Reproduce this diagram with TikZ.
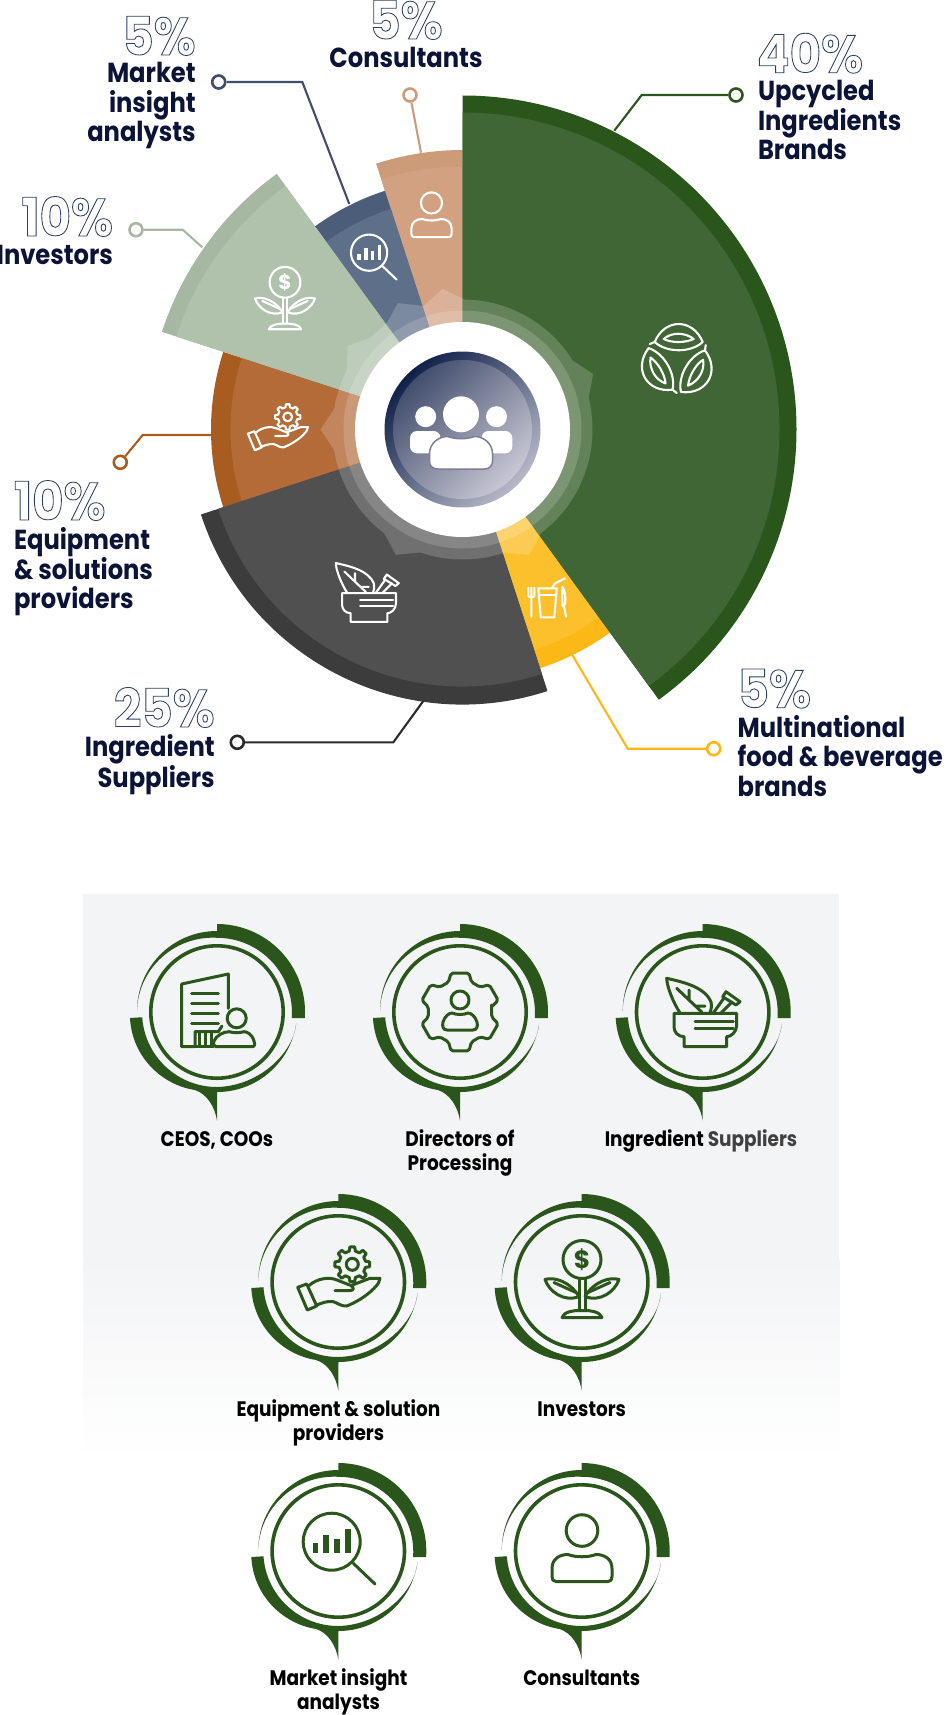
\documentclass[tikz,border=0pt]{standalone}
\usepackage{fontspec}
\setmainfont{Poppins}
\newfontfamily\lblfont[FakeStretch=.88]{Poppins}
\newfontfamily\pctfont[FakeStretch=.91]{Poppins}
\usetikzlibrary{positioning}

\definecolor{navy}{HTML}{0B1437}
\definecolor{leafgreen}{HTML}{2A561C}
\definecolor{panel}{HTML}{F3F4F6}
\definecolor{greenM}{HTML}{3F6634}
\definecolor{greenB}{HTML}{2A561C}
\definecolor{yellowM}{HTML}{FCC02C}
\definecolor{yellowB}{HTML}{FBB817}
\definecolor{greyM}{HTML}{505050}
\definecolor{greyB}{HTML}{3C3C3C}
\definecolor{brownM}{HTML}{B36B38}
\definecolor{brownB}{HTML}{A95C20}
\definecolor{sageM}{HTML}{B0C1AC}
\definecolor{sageB}{HTML}{A6B8A1}
\definecolor{slateM}{HTML}{5D6F89}
\definecolor{slateB}{HTML}{4C5D79}
\definecolor{peachM}{HTML}{D1A182}
\definecolor{peachB}{HTML}{CC9B78}
\definecolor{hubDark}{HTML}{0F2048}
\definecolor{hubPale}{HTML}{B7B8C8}
\definecolor{coreDark}{HTML}{434E6E}
\definecolor{corePale}{HTML}{C8C8D4}
\definecolor{bodyHalo}{HTML}{7C7E98}

% outlined figures
\newcommand{\hollow}[1]{\special{pdf:code q 1 Tr .85 w 0.18 0.25 0.39 RG}#1\special{pdf:code Q}}

\tikzset{
    pics/badge/.style={code={
        \fill[leafgreen] (0,88) arc[start angle=90, end angle=-4, radius=88] -- (74.8,-6)
            arc[start angle=-4, end angle=90, radius=75] .. controls (-43,76.5) and (-79,43) .. (-80,1)
            arc[start angle=180, end angle=90, radius=80] -- cycle;
        \fill[leafgreen] (-87,-6) .. controls (-85,-45) and (-55,-73) .. (-22,-78)
            .. controls (-10,-82) and (-2,-95) .. (0,-108.7) -- (0,-80)
            arc[start angle=270, end angle=352, radius=80] .. controls (77,-40) and (43,-74) .. (0,-75)
            arc[start angle=270, end angle=184, radius=75] -- cycle;
        \draw[leafgreen, line width=3.6pt] (0,0) circle[radius=66.2];
    }},
    pics/person/.style={code={
        \draw[iconline] (0,18) circle[radius=15.8];
        \draw[iconline] (-26,-33) -- (26,-33) .. controls (29,-33) and (30,-31) .. (30,-28) -- (30,-20)
            .. controls (30,-10) and (22,-6) .. (14,-6) .. controls (6,-9) and (-6,-9) .. (-14,-6)
            .. controls (-22,-6) and (-30,-10) .. (-30,-20) -- (-30,-28) .. controls (-30,-31) and (-29,-33) .. (-26,-33) -- cycle;
    }},
    pics/lens/.style={code={
        \draw[iconline] (-7.3,6.8) circle[radius=28.5];
        \draw[iconline] (14.3,-14.8) -- (36,-35.5);
        \fill[iconfill] (-26.3,-4.8) rectangle (-20.7,5.2);
        \fill[iconfill] (-15.7,-4.8) rectangle (-9.7,13.5);
        \fill[iconfill] (-5,-4.8) rectangle (1,9.2);
        \fill[iconfill] (6,-4.8) rectangle (12,19.2);
    }},
    pics/plant/.style={code={
        \draw[iconline] (0,20) circle[radius=19];
        \node[icontext, transform shape, font=\fontsize{25}{25}\selectfont\bfseries] (coin) at (0,19.5) {\$};
        \draw[iconline] (-3,1) -- (-3,-31) (3,1) -- (3,-31);
        \draw[iconline] (-3,-17) .. controls (-12,-2) and (-28,3) .. (-37,0) .. controls (-33,-12) and (-18,-23) .. (-3,-17);
        \draw[iconline] (3,-17) .. controls (12,-2) and (28,3) .. (37,0) .. controls (33,-12) and (18,-23) .. (3,-17);
        \draw[iconline] (-28,-3) -- (-6,-13) (28,-3) -- (6,-13);
        \draw[iconline] (-20,-38) -- (20,-38) .. controls (18,-32) and (8,-31) .. (3,-31) -- (-3,-31) .. controls (-8,-31) and (-18,-32) .. (-20,-38) -- cycle;
    }},
    pics/handgear/.style={code={
        \begin{scope}[shift={(13.3,15.2)}]
            \draw[iconline] (-13:13.5) \foreach \t in {0,45,...,315} {
                -- (\t-13:13.5) -- (\t-8:17.5) -- (\t+8:17.5) -- (\t+13:13.5)} -- cycle;
            \draw[iconline] (0,0) circle[radius=6];
        \end{scope}
        \draw[iconline] (-41.3,-7.8) -- (-31.7,-30.5) -- (-22.3,-26.5) -- (-32.3,-4.5) -- cycle;
        \draw[iconline] (-30,-6) .. controls (-22,1) and (-10,3) .. (-2,-.5) -- (12,-6) .. controls (16,-9) and (14,-11) .. (11,-11) -- (-4,-11);
        \draw[iconline] (12,-6) -- (31,1.2) -- (41,1.2) -- (39.3,-3.8) .. controls (35,-10) and (24,-20) .. (7.7,-26.5) .. controls (2,-27) and (-2,-23) .. (-5.7,-22.2) .. controls (-12,-21) and (-18,-24) .. (-22.3,-25.5);
    }},
    pics/mortar/.style={code={
        \draw[iconline] (-29,-1.3) -- (33.7,-1.3) -- (33.7,-13) .. controls (33.7,-20) and (28,-24.7) .. (23.7,-24.7) -- (23.7,-34.7) -- (-19,-34.7) -- (-19,-24.7)
            .. controls (-25,-24.7) and (-29,-20) .. (-29,-15) -- cycle;
        \draw[iconline] (-8,-9.7) -- (30.3,-9.7) (-8,-16.3) -- (30.3,-16.3);
        \draw[iconline] (-23,-1) .. controls (-30,10) and (-36,25) .. (-36.3,33.7) .. controls (-20,30) and (2,25) .. (8,10) .. controls (9,6) and (8,2) .. (7,-1);
        \draw[iconline] (-26.3,23.7) -- (-1.3,0) (-14,12) -- (-14,22) (-8,6) -- (2,6);
        \draw[iconline] (10.3,-1) -- (21,14) (18,-1) -- (29,10);
        \draw[iconline] (19.7,15.3) -- (23,20.3) -- (37,10.3) -- (33,7) -- cycle;
    }},
    pics/tower/.style={code={
        \draw[iconline] (11.3,3.7) -- (11.3,38) -- (-35.3,28) -- (-35.3,-34.7) -- (-22,-34.7) -- (-22,-19.7) -- (1.3,-19.7) -- (5,-14);
        \draw[iconline] (-25.3,18.7) -- (1.3,18.7) (-25.3,8.7) -- (1.3,8.7) (-25.3,-1.3) -- (1.3,-1.3) (-25.3,-11.3) -- (1.3,-11.3);
        \fill[iconfill] (-19.5,-34.7) rectangle (-16,-21);
        \fill[iconfill] (-13.5,-34.7) rectangle (-10,-21);
        \fill[iconfill] (-7.5,-34.7) rectangle (-4,-21);
        \draw[iconline] (-3.7,-34.7) -- (-22,-34.7);
        \draw[iconline] (19.7,-6.3) circle[radius=9.5];
        \draw[iconline] (-1,-34.7) -- (35,-34.7) .. controls (38,-34.7) and (38,-32) .. (37,-29) .. controls (35,-22) and (30,-19.7) .. (27,-19.7)
            .. controls (22,-21) and (17,-21) .. (12,-19.7) .. controls (6,-19.7) and (-1,-24) .. (-3,-29) .. controls (-4,-32) and (-3,-34.7) .. (-1,-34.7) -- cycle;
    }},
    pics/gearman/.style={code={
        \draw[iconline, rounded corners=2pt] (9:32) \foreach \t in {30,90,150,210,270,330} {
            -- (\t-21:32) -- (\t-13:40) -- (\t+13:40) -- (\t+21:32)} -- cycle;
        \draw[iconline] (0,12) circle[radius=9];
        \draw[iconline] (-13,-18) -- (13,-18) .. controls (17,-18) and (18,-14) .. (17,-10) .. controls (15,-4) and (11,-1) .. (8,-1)
            .. controls (3,-3) and (-3,-3) .. (-8,-1) .. controls (-11,-1) and (-15,-4) .. (-17,-10) .. controls (-18,-14) and (-17,-18) .. (-13,-18) -- cycle;
    }},
    pics/threeleaf/.style={code={
        \foreach \r in {0,120,240} {
            \begin{scope}[rotate around={\r:(.7,-.7)}]
                \draw[iconline] (-22,18) .. controls (-12,42) and (16,42) .. (26,18) .. controls (14,7) and (-10,7) .. (-22,18) -- cycle;
                \draw[iconline] (-22,18) -- (-27,16);
                \draw[iconline] (-13,21) .. controls (-5,28) and (8,28) .. (17,21) .. controls (8,17) and (-5,17) .. (-13,21) -- cycle;
            \end{scope}
        }
    }},
    pics/drink/.style={code={
        \draw[iconline] (-8.7,9.3) -- (9.7,9.3) -- (7.3,-19.7) -- (-6.3,-19.7) -- cycle;
        \draw[iconline] (-8,2.7) -- (9,2.7);
        \draw[iconline] (4.7,9.3) -- (8,14.3) -- (18,19.3);
        \draw[iconline] (-18.7,10) -- (-18.7,2) .. controls (-18.7,0) and (-12.7,0) .. (-12.7,2) -- (-12.7,10) (-15.7,10) -- (-15.7,-19);
        \draw[iconline] (15.3,11) .. controls (19,6) and (19,-6) .. (17,-8) -- (19,-19) (15.3,11) -- (15.3,-8) -- (17,-8);
    }},
}

\begin{document}
\begin{tikzpicture}[x=1pt, y=1pt,
    pct/.style={font=\pctfont\fontsize{53}{53}\selectfont\bfseries, inner sep=0pt, outer sep=0pt},
    lbl/.style={font=\lblfont\fontsize{27.5}{29.5}\selectfont\bfseries, text=navy, inner sep=0pt, outer sep=0pt, execute at begin node=\strut},
    capt/.style={font=\lblfont\fontsize{21}{24}\selectfont\bfseries, text=black, inner sep=0pt, outer sep=0pt, align=center, execute at begin node=\strut},
    dot/.style={circle, draw=#1, line width=2.6pt, fill=white, minimum size=13pt, inner sep=0pt},
    lead/.style={draw=#1, line width=2.1pt, line join=miter},
    whiteicon/.style={iconline/.style={draw=white, line width=2.1pt, line join=round, line cap=round},
        iconfill/.style={fill=white}, icontext/.style={text=white, inner sep=0pt}},
    greenicon/.style={iconline/.style={draw=leafgreen, line width=3pt, line join=round, line cap=round},
        iconfill/.style={fill=leafgreen}, icontext/.style={text=leafgreen, inner sep=0pt}},
    ]
    \useasboundingbox (0,0) rectangle (950,-1715);

    % panel behind the badges
    \fill[panel] (83.3,-894) rectangle (839.3,-1260);
    \shade[top color=panel, bottom color=white] (83.3,-1260) rectangle (839.3,-1460);

    % pie: from, to, radius, band radius, colours
    \begin{scope}[shift={(462.5,-429.5)}]
        \foreach \aa/\ab/\ro/\ri/\cm/\cb in {
            90/108/279.5/263/peachM/peachB,
            108/126/251/232/slateM/slateB,
            162/198/251.5/232/brownM/brownB,
            -54/-72/251/232/yellowM/yellowB,
            -72/-162/275/257/greyM/greyB,
            126/162/316/301/sageM/sageB,
            90/-54/334/317/greenM/greenB} {
            \fill[\cb] (0,0) -- (\aa:\ro) arc[start angle=\aa, end angle=\ab, radius=\ro] -- cycle;
            \fill[\cm] (0,0) -- (\aa:\ri) arc[start angle=\aa, end angle=\ab, radius=\ri] -- cycle;
        }
        % hub
        \fill[white, opacity=.19] (0,0) circle[radius=130]
            \foreach \t in {23,98,117,144,180,242,298} { (\t-11:128) -- (\t:142) -- (\t+11:128) -- cycle };
        \fill[white, opacity=.16] (0,0) circle[radius=119];
        \fill[white] (0,0) circle[radius=107.5];
        \shade[top color=hubDark, bottom color=hubPale, shading angle=45] (0,0) circle[radius=78];
        \shade[top color=coreDark, bottom color=corePale, shading angle=45] (0,0) circle[radius=69.5];
        \fill[white] (-36.8,12.8) circle[radius=10.5] (34,12.8) circle[radius=10.5] (-1.5,15.2) circle[radius=18];
        \fill[white, rounded corners=7pt] (-52.5,-23.8) rectangle (-22,-1.5);
        \fill[white, rounded corners=7pt] (19,-23.8) rectangle (49.8,-1.5);
        \draw[bodyHalo, line width=1.5pt, fill=white] (-25,-39.5) .. controls (-30,-39.5) and (-33,-36) .. (-33,-32) -- (-33,-24)
            .. controls (-33,-14) and (-24,-7) .. (-15,-7) .. controls (-6,-10) and (3,-10) .. (12,-7) .. controls (21,-7) and (30,-14) .. (30,-24)
            -- (30,-32) .. controls (30,-36) and (27,-39.5) .. (22,-39.5) -- cycle;
    \end{scope}

    % icons on the pie
    \pic[whiteicon, scale=1] (pieLeaf) at (676.7,-360) {threeleaf};
    \pic[whiteicon, scale=.67] (piePerson) at (431.5,-215) {person};
    \pic[whiteicon, scale=.635] (pieLens) at (373.7,-257) {lens};
    \pic[whiteicon, scale=.81] (piePlant) at (285,-298.5) {plant};
    \pic[whiteicon, scale=.73] (pieHand) at (278,-428) {handgear};
    \pic[whiteicon, scale=.86] (pieMortar) at (367,-592) {mortar};
    \pic[whiteicon, scale=1] (pieDrink) at (547,-597.7) {drink};

    % dots and leaders
    \node[dot=leafgreen] (greenDot) at (736,-95) {};
    \coordinate (greenElbow) at (641.7,-95);
    \coordinate (greenEnd) at (614.3,-130.7);
    \draw[lead=leafgreen] (greenDot) -- (greenElbow) -- (greenEnd);
    \node[dot=peachB] (peachDot) at (410,-95) {};
    \coordinate (peachEnd) at (421,-152.7);
    \draw[lead=peachB] (peachDot) -- (peachEnd);
    \node[dot=slateB!80!navy] (slateDot) at (218.7,-82) {};
    \coordinate (slateElbow) at (302.3,-82);
    \coordinate (slateEnd) at (349.3,-204);
    \draw[lead=slateB!80!navy] (slateDot) -- (slateElbow) -- (slateEnd);
    \node[dot=sageB] (sageDot) at (136,-229.7) {};
    \coordinate (sageElbow) at (182.7,-229.7);
    \coordinate (sageEnd) at (202.3,-247.3);
    \draw[lead=sageB] (sageDot) -- (sageElbow) -- (sageEnd);
    \node[dot=brownB] (brownDot) at (120.3,-462.3) {};
    \coordinate (brownElbow) at (142.7,-435);
    \coordinate (brownEnd) at (211,-435);
    \draw[lead=brownB] (brownDot) -- (brownElbow) -- (brownEnd);
    \node[dot=greyB!70!black] (greyDot) at (237.3,-742.3) {};
    \coordinate (greyElbow) at (393.3,-742.3);
    \coordinate (greyEnd) at (423.3,-701);
    \draw[lead=greyB!70!black] (greyDot) -- (greyElbow) -- (greyEnd);
    \node[dot=yellowB] (yellowDot) at (713.7,-748.7) {};
    \coordinate (yellowElbow) at (627.7,-748.7);
    \coordinate (yellowEnd) at (572.3,-655);
    \draw[lead=yellowB] (yellowDot) -- (yellowElbow) -- (yellowEnd);

    % shares and names
    \node[pct, anchor=base west] (greenPct) at (757,-72.7) {\hollow{40\%}};
    \node[lbl, align=left, below right=7.6pt and 1pt of greenPct.base west] (greenName) {Upcycled\\Ingredients\\Brands};
    \node[pct, anchor=base] (peachPct) at (406,-39) {\hollow{5\%}};
    \node[lbl, align=center, below=7.6pt of peachPct.base] (peachName) {Consultants};
    \node[pct, anchor=base east] (slatePct) at (195.7,-55) {\hollow{5\%}};
    \node[lbl, align=right, below left=7.6pt and 0pt of slatePct.base east] (slateName) {Market\\insight\\analysts};
    \node[pct, anchor=base east] (sagePct) at (113,-236) {\hollow{10\%}};
    \node[lbl, align=right, below left=7.6pt and 0pt of sagePct.base east] (sageName) {Investors};
    \node[pct, anchor=base west] (brownPct) at (14,-520) {\hollow{10\%}};
    \node[lbl, align=left, below right=7.6pt and 0pt of brownPct.base west] (brownName) {Equipment\\\& solutions\\providers};
    \node[pct, anchor=base east] (greyPct) at (214.7,-727) {\hollow{25\%}};
    \node[lbl, align=right, below left=7.6pt and 0pt of greyPct.base east] (greyName) {Ingredient\\Suppliers};
    \node[pct, anchor=base west] (yellowPct) at (737.7,-707.7) {\hollow{5\%}};
    \node[lbl, align=left, below right=7.6pt and 0pt of yellowPct.base west] (yellowName) {Multinational\\food \& beverage\\brands};

    % badges
    \foreach \bx/\by in {217/-1012, 460/-1012, 702.7/-1012, 338.3/-1282, 581.7/-1282, 338.3/-1551, 581.7/-1551}
        \pic at (\bx,\by) {badge};
    \pic[greenicon] (ceoIcon) at (217,-1012) {tower};
    \pic[greenicon] (dirIcon) at (460,-1012) {gearman};
    \pic[greenicon] (supIcon) at (703,-1012) {mortar};
    \pic[greenicon] (eqpIcon) at (339,-1279.5) {handgear};
    \pic[greenicon] (invIcon) at (582,-1279.5) {plant};
    \pic[greenicon] (mktIcon) at (339,-1548.5) {lens};
    \pic[greenicon] (conIcon) at (582,-1548.5) {person};

    \node[capt, anchor=north] (ceoCap) at (217,-1129.9) {CEOS, COOs};
    \node[capt, anchor=north] (dirCap) at (460,-1129.9) {Directors of\\Processing};
    \node[capt, anchor=north] (supCap) at (701,-1129.9) {Ingredient {\color{black!75}Suppliers}};
    \node[capt, anchor=north] (eqpCap) at (338.5,-1399.2) {Equipment \& solution\\providers};
    \node[capt, anchor=north] (invCap) at (581.7,-1399.2) {Investors};
    \node[capt, anchor=north] (mktCap) at (338.5,-1668.2) {Market insight\\analysts};
    \node[capt, anchor=north] (conCap) at (581.7,-1668.2) {Consultants};
\end{tikzpicture}
\end{document}
